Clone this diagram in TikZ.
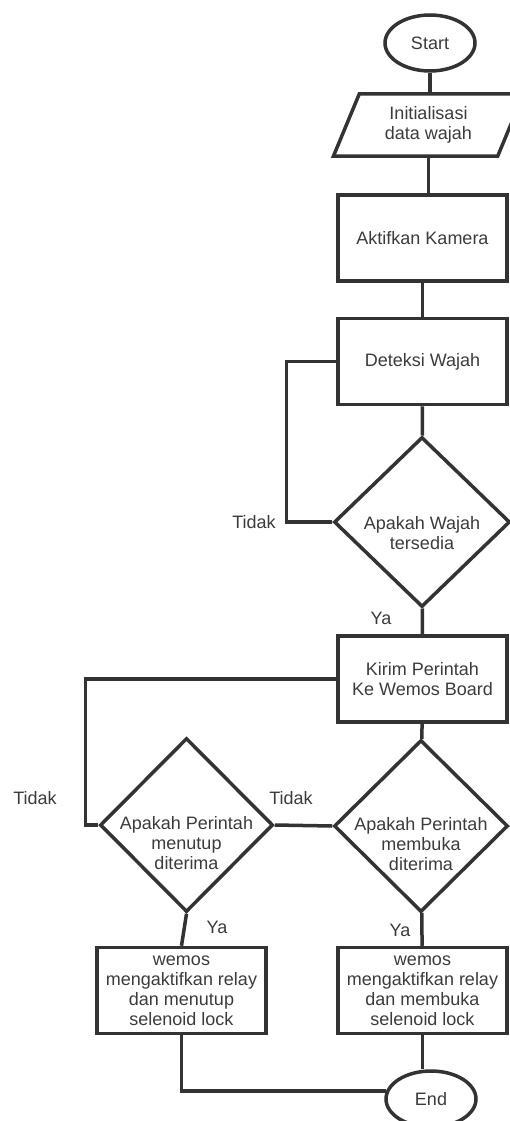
\documentclass[tikz,border=0pt]{standalone}
\usepackage{fontspec}
\setmainfont{Liberation Sans}
\usetikzlibrary{shapes.geometric}
\definecolor{fcline}{HTML}{333333}
\definecolor{fctext}{HTML}{3B3B3B}

\begin{document}
\begin{tikzpicture}[x=1pt, y=-1pt, line width=3.5pt, fcline,
    every node/.style={font=\fontsize{18}{20}\selectfont, text=fctext, align=center, inner sep=0pt},
    terminal/.style={draw, ellipse, minimum width=90pt, minimum height=56pt},
    iobox/.style={draw, trapezium, trapezium left angle=55, trapezium right angle=125,
      trapezium stretches body, minimum width=190pt, minimum height=62pt},
    procbox/.style={draw, rectangle, minimum width=169pt, minimum height=86pt},
    decision/.style={draw, diamond, minimum width=174pt, minimum height=172pt}]
    \useasboundingbox (0,0) rectangle (509,1121);
    \node[terminal] (start) at (430,43) {Start};
    \node[iobox] (init) at (428.5,125) {Initialisasi\\data wajah};
    \node[procbox] (kamera) at (422.5,238) {Aktifkan Kamera};
    \node[procbox] (deteksi) at (422.5,361.5) {Deteksi Wajah};
    \node[decision, minimum width=176pt, minimum height=170pt,
      label={[name=wajahtxt, yshift=-11pt]center:Apakah Wajah\\tersedia}] (wajah) at (422,522) {};
    \node[procbox] (kirim) at (422.5,679) {Kirim Perintah\\Ke Wemos Board};
    \node[decision,
      label={[name=bukatxt, yshift=-18pt]center:Apakah Perintah\\membuka\\diterima}] (buka) at (421,826) {};
    \node[decision, minimum width=173pt, minimum height=174pt,
      label={[name=tutuptxt, yshift=-18pt]center:Apakah Perintah\\menutup\\diterima}] (tutup) at (186.5,825) {};
    \node[procbox] (tutupbox) at (181.5,990.5) {wemos\\mengaktifkan relay\\dan menutup\\selenoid lock};
    \node[procbox] (bukabox) at (422.5,990.5) {wemos\\mengaktifkan relay\\dan membuka\\selenoid lock};
    \node[terminal] (end) at (431,1099) {End};

    \node (tidaka) at (254,522) {Tidak};
    \node (yaa) at (381,618) {Ya};
    \node (tidakb) at (35,798) {Tidak};
    \node (tidakc) at (291,798) {Tidak};
    \node (yab) at (217,927) {Ya};
    \node (yac) at (400,930) {Ya};

    \draw (start.south) -- (start.south |- init.north);
    \draw (init.south) -- (init.south |- kamera.north);
    \draw (kamera) -- (deteksi);
    \draw (deteksi) -- (wajah);
    \draw (deteksi.west) -- ++(-50,0) |- (wajah.west);
    \draw (wajah) -- (kirim);
    \draw (kirim.west) -- ++(-251,0) |- (tutup.west);
    \draw (kirim) -- (buka);
    \draw (tutup.east) -- (buka.west);
    \draw (tutup.south) -- (tutupbox.north);
    \draw (buka) -- (bukabox);
    \draw (tutupbox.south) |- (end.170);
    \draw (bukabox.south) -- (bukabox.south |- end.north);
  \end{tikzpicture}
\end{document}
